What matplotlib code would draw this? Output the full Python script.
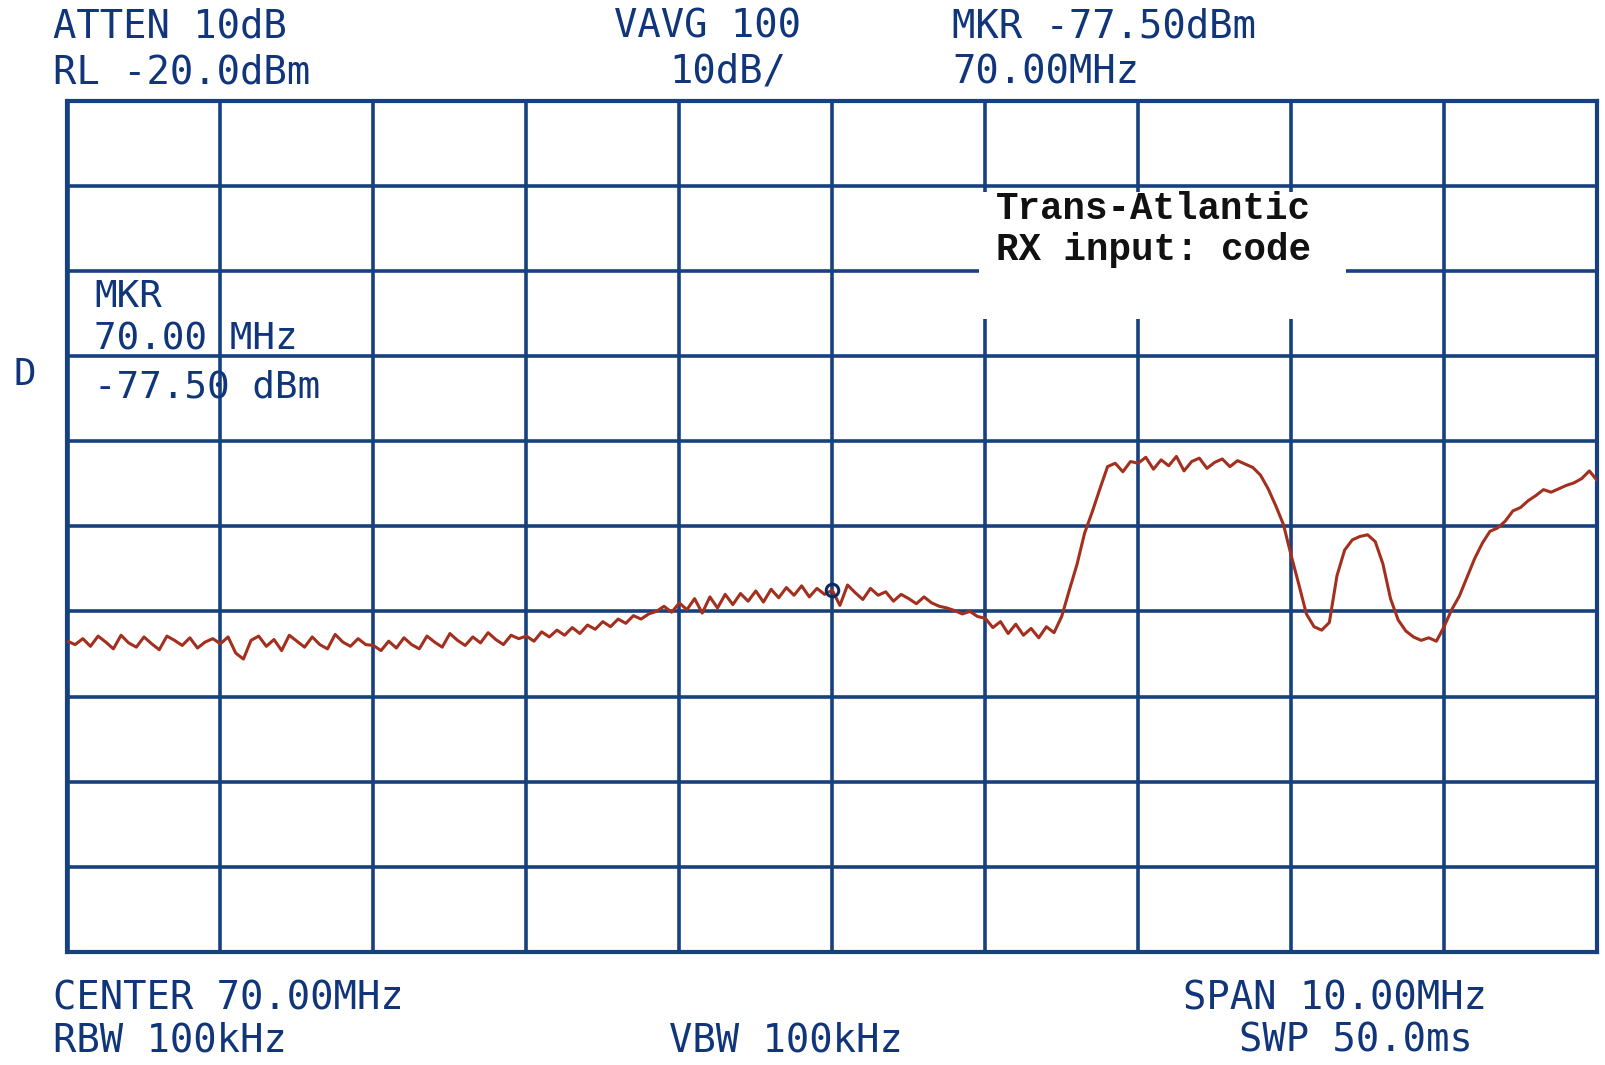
import numpy as np
import matplotlib
matplotlib.use('Agg')
import matplotlib.pyplot as plt
from matplotlib.patches import Rectangle

# analyzer settings
start_mhz = 65.0
stop_mhz = 75.0
ref_level = -20.0
db_per_div = 10.0
n_div = 10

# sweep trace, every 0.05 MHz (one row per MHz)
trace_dbm = (
    [-83.5, -83.9, -83.2, -84.1, -82.9, -83.6, -84.4, -82.8, -83.7, -84.2,
     -83.0, -83.8, -84.5, -82.9, -83.4, -84.0, -83.1, -84.3, -83.6, -83.2] +
    [-83.8, -83.0, -84.9, -85.6, -83.4, -82.9, -84.1, -83.3, -84.6, -82.8,
     -83.5, -84.2, -83.0, -83.9, -84.4, -82.7, -83.6, -84.1, -83.2, -83.9] +
    [-84.0, -84.6, -83.5, -84.3, -83.1, -83.9, -84.4, -82.9, -83.6, -84.2,
     -82.6, -83.4, -84.0, -83.0, -83.7, -82.5, -83.3, -83.9, -82.8, -83.2] +
    [-82.9, -83.5, -82.4, -83.0, -82.2, -82.8, -81.9, -82.6, -81.6, -82.1,
     -81.2, -81.8, -80.9, -81.4, -80.5, -80.9, -80.3, -80.0, -79.4, -80.1] +
    [-79.0, -79.8, -78.5, -80.2, -78.3, -79.6, -78.0, -79.2, -77.9, -78.8,
     -77.6, -78.9, -77.4, -78.4, -77.2, -78.1, -77.0, -78.3, -77.3, -78.0] +
    [-77.5, -79.3, -76.9, -77.8, -78.6, -77.3, -78.1, -77.7, -78.8, -78.0,
     -78.5, -79.1, -78.3, -79.0, -79.4, -79.6, -79.9, -80.3, -80.0, -80.6] +
    [-80.8, -81.9, -81.2, -82.6, -81.5, -82.8, -82.0, -83.1, -81.8, -82.5,
     -80.6, -77.5, -74.5, -70.8, -68.3, -65.6, -63.0, -62.6, -63.6, -62.4] +
    [-62.6, -61.9, -63.3, -62.2, -62.9, -61.8, -63.5, -62.4, -62.0, -63.2,
     -62.5, -62.1, -63.0, -62.3, -62.7, -63.1, -64.0, -65.6, -67.6, -69.8] +
    [-73.4, -76.8, -80.3, -81.8, -82.2, -81.3, -75.8, -72.8, -71.6, -71.2,
     -71.0, -71.8, -74.4, -78.5, -81.0, -82.3, -83.0, -83.4, -83.1, -83.5] +
    [-81.8, -79.8, -78.2, -76.0, -73.8, -72.0, -70.6, -70.2, -69.4, -68.2,
     -67.8, -67.0, -66.4, -65.7, -66.0, -65.6, -65.2, -64.9, -64.4, -63.5] +
    [-64.6]
)
freq_mhz = np.linspace(start_mhz, stop_mhz, len(trace_dbm))

marker_mhz = 70.0
marker_dbm = -77.5

# annotation box (erases the grid behind the label)
note_lines = ['Trans-Atlantic', 'RX input: code']
note_box = (70.96, -45.7, 73.36, -30.8)

# screen annotations: (text, x px, y px, align)
header_texts = [
    ('ATTEN 10dB', 53, 26, 'left'),
    ('VAVG 100', 708, 26, 'center'),
    ('MKR -77.50dBm', 952, 26, 'left'),
    ('RL -20.0dBm', 53, 72, 'left'),
    ('10dB/', 728, 72, 'center'),
    ('70.00MHz', 952, 72, 'left'),
]
footer_texts = [
    ('CENTER 70.00MHz', 53, 998, 'left'),
    ('SPAN 10.00MHz', 1335, 998, 'center'),
    ('RBW 100kHz', 53, 1040, 'left'),
    ('VBW 100kHz', 786, 1040, 'center'),
    ('SWP 50.0ms', 1356, 1040, 'center'),
]
marker_block = [
    ('MKR', 94, 297, 'left'),
    ('70.00 MHz', 94, 340, 'left'),
    ('-77.50 dBm', 94, 388, 'left'),
    ('D', 14, 375, 'left'),
]

W, H = 1606, 1065
grid_color = '#17407f'
text_color = '#10357a'
trace_color = '#a3301f'

fig = plt.figure(figsize=(W / 100, H / 100), dpi=100)
fig.patch.set_facecolor('white')
ax = fig.add_axes([67.5 / W, 1 - 952 / H, (1597 - 67.5) / W, (952 - 100.5) / H])

bottom = ref_level - n_div * db_per_div
ax.set_xlim(start_mhz, stop_mhz)
ax.set_ylim(bottom, ref_level)
ax.set_xticks(np.linspace(start_mhz, stop_mhz, n_div + 1))
ax.set_yticks(np.linspace(bottom, ref_level, n_div + 1))
ax.tick_params(length=0, labelbottom=False, labelleft=False)
ax.set_axisbelow(True)
ax.grid(True, color=grid_color, linewidth=2.6)
for sp in ax.spines.values():
    sp.set_color(grid_color)
    sp.set_linewidth(3.0)

x0, y0, x1, y1 = note_box
ax.add_patch(Rectangle((x0, y0), x1 - x0, y1 - y0, facecolor='white',
                       edgecolor='none', zorder=1))

ax.plot(freq_mhz, trace_dbm, color=trace_color, linewidth=2.2, zorder=3)
ax.plot([marker_mhz], [marker_dbm], marker='o', markersize=9,
        markerfacecolor='none', markeredgecolor='#0d2a60',
        markeredgewidth=2.2, zorder=4)

ax.text(71.07, -32.8, note_lines[0], family='Liberation Mono', weight='bold',
        fontsize=27, color='#111111', va='center', ha='left', zorder=5)
ax.text(71.07, -37.5, note_lines[1], family='Liberation Mono', weight='bold',
        fontsize=27, color='#111111', va='center', ha='left', zorder=5)

for txt, px, py, ha in header_texts + footer_texts:
    fig.text(px / W, 1 - py / H, txt, family='DejaVu Sans Mono',
             fontsize=28, color=text_color, ha=ha, va='center')
for txt, px, py, ha in marker_block:
    fig.text(px / W, 1 - py / H, txt, family='DejaVu Sans Mono',
             fontsize=27, color=text_color, ha=ha, va='center')

fig.savefig('out.png', dpi=100, facecolor='white')
